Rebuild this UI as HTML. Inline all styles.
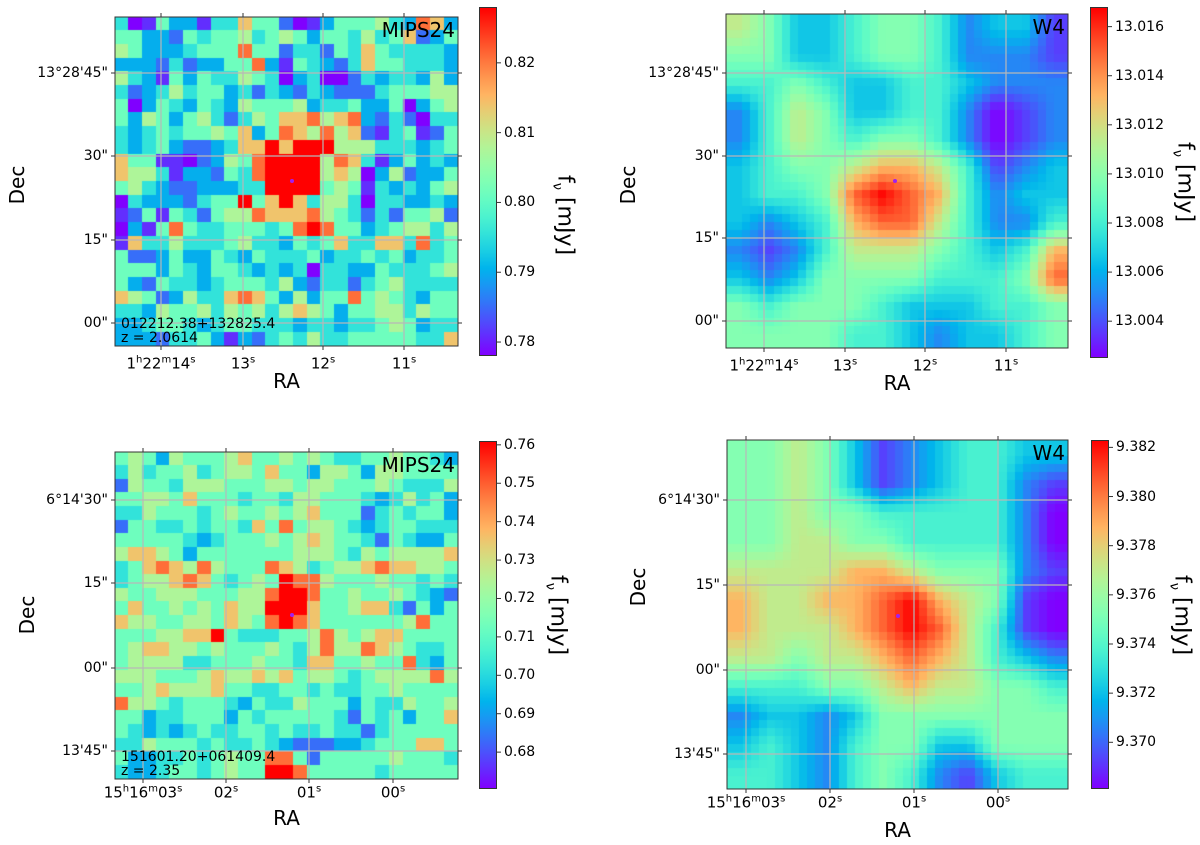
<!DOCTYPE html>
<html><head><meta charset="utf-8">
<style>
body{margin:0;background:#fff;}
#root{position:relative;width:1200px;height:845px;overflow:hidden;background:#fff;font-family:"DejaVu Sans","Liberation Sans",sans-serif;color:#000;}
.t{position:absolute;white-space:nowrap;font-size:14px;line-height:1;}
.ax{position:absolute;box-sizing:border-box;border:1px solid #333;}
sup{font-size:10px;vertical-align:6px;line-height:0;}
canvas{position:absolute;}
svg{position:absolute;left:0;top:0;}
</style></head>
<body>
<div id="root">
<svg id="ov" width="1200" height="845"></svg>
</div>
<script>
// ---- data: flux levels (0 = colorbar min ... 9 = colorbar max) ----
const mipsTopRows=[
"4015331447552013555643873",
"5533254556456535546457235",
"6533345558552442547544443",
"3332423355831543247554443",
"6431535446540340024344363",
"4234645534243243222455566",
"5035435436555634453350356",
"5365356424657786783242044",
"4345455657358768672145125",
"4345322347797999666444345",
"7551102365899996874135343",
"7664133254899996760362335",
"5643223334499995651434356",
"0433324559579746640443343",
"1251542566877786542425562",
"0315854455545898553456646",
"1744644456443545744774845",
"5223533543544453445453445",
"5553543554343404433544456",
"5325443455546324424564444",
"7652364478753635585654355",
"4436556465646765355664655",
"3345543455444344344565344",
"3332445313245464455555447"];
const mipsBotRows=[
"5653655567556565445565543",
"4645564566575536653665555",
"2655466655566566555654446",
"5566575554554665554346453",
"4465554565565675552454553",
"2554454554758566543455444",
"5555543455565676554254335",
"6776535555555666546566667",
"4578768655587645667877665",
"4566787545659886555655454",
"6556665556689985565565432",
"5755656576699975567742535",
"7665566576589875555556855",
"5556677954445568656775555",
"5677665655565468668765445",
"5666644555655477556558435",
"6665556766767566545666686",
"5567666755445545445565555",
"8665455543544655535446556",
"5534455535455555425453557",
"5434345445545445442455555",
"4465554544543222334555775",
"5334454565588525555565554",
"4334554565599855555455555"];
const w4TopRows=[
"653345542331",
"553345542221",
"445433443222",
"246533442012",
"246545542012",
"345567764123",
"344589874233",
"323478864224",
"212466654347",
"323555544458",
"545554333445",
"555544323345"];
const w4BotRows=[
"556531234433",
"556531234421",
"556554444420",
"556655444420",
"666677655521",
"766778976510",
"766678986410",
"665667876432",
"444556766554",
"233235555555",
"343245533555",
"443245421344"];
const cb1Ticks=["0.78","0.79","0.80","0.81","0.82"];
const cb2Ticks=["13.004","13.006","13.008","13.010","13.012","13.014","13.016"];
const cb3Ticks=["0.68","0.69","0.70","0.71","0.72","0.73","0.74","0.75","0.76"];
const cb4Ticks=["9.370","9.372","9.374","9.376","9.378","9.380","9.382"];
const cbRanges=[[0.778,0.828],[13.0025,13.0168],[0.6704,0.7610],[9.3681,9.3823]];

function rainbow(t){t=Math.max(0,Math.min(1,t));
 const r=Math.min(1,Math.abs(2*t-0.5)),g=Math.sin(Math.PI*t),b=Math.cos(Math.PI*t/2);
 return [Math.round(r*255),Math.round(g*255),Math.round(b*255)];}
function css(c){return 'rgb('+c[0]+','+c[1]+','+c[2]+')';}
function lvl(d,g){return Math.pow(d/9,g);}

const root=document.getElementById('root');
const ov=document.getElementById('ov');
const NS='http://www.w3.org/2000/svg';

const panels=[
 {name:'mips-top',kind:'mips',rows:mipsTopRows,x0:115,y0:17,x1:458,y1:346,
  cb:{x:479,w:18,y0:7,y1:356},ticks:cb1Ticks,range:cbRanges[0],
  gx:[161,243,323,404],gxl:['1<sup>h</sup>22<sup>m</sup>14<sup>s</sup>','13<sup>s</sup>','12<sup>s</sup>','11<sup>s</sup>'],
  gy:[73,156,240,323],gyl:['13°28\'45"','30"','15"','00"'],
  src:[292,181],id1:'012212.38+132825.4',id2:'z = 2.0614',label:'MIPS24',
  xlabY:364,raY:381,decX:17,decY:185,cbLab:[563,215]},
 {name:'w4-top',kind:'w4',rows:w4TopRows,x0:726,y0:14,x1:1068,y1:348,
  cb:{x:1090,w:18,y0:7,y1:358},ticks:cb2Ticks,range:cbRanges[1],
  gx:[764,845,925,1006],gxl:['1<sup>h</sup>22<sup>m</sup>14<sup>s</sup>','13<sup>s</sup>','12<sup>s</sup>','11<sup>s</sup>'],
  gy:[73,156,238,321],gyl:['13°28\'45"','30"','15"','00"'],
  src:[895,181],label:'W4',
  xlabY:366,raY:383,decX:628,decY:185,cbLab:[1183,182]},
 {name:'mips-bottom',kind:'mips',rows:mipsBotRows,x0:115,y0:452,x1:458,y1:779,
  cb:{x:479,w:18,y0:441,y1:789},ticks:cb3Ticks,range:cbRanges[2],
  gx:[143,226,309,393],gxl:['15<sup>h</sup>16<sup>m</sup>03<sup>s</sup>','02<sup>s</sup>','01<sup>s</sup>','00<sup>s</sup>'],
  gy:[500,583,668,751],gyl:['6°14\'30"','15"','00"','13\'45"'],
  src:[292,615],id1:'151601.20+061409.4',id2:'z = 2.35',label:'MIPS24',
  xlabY:793,raY:818,decX:27,decY:615,cbLab:[556,615]},
 {name:'w4-bottom',kind:'w4',rows:w4BotRows,x0:727,y0:440,x1:1068,y1:789,
  cb:{x:1091,w:18,y0:440,y1:789},ticks:cb4Ticks,range:cbRanges[3],
  gx:[746,830,914,998],gxl:['15<sup>h</sup>16<sup>m</sup>03<sup>s</sup>','02<sup>s</sup>','01<sup>s</sup>','00<sup>s</sup>'],
  gy:[500,585,670,754],gyl:['6°14\'30"','15"','00"','13\'45"'],
  src:[898,616],label:'W4',
  xlabY:803,raY:830,decX:638,decY:587,cbLab:[1180,615]}
];

function line(x1,y1,x2,y2,col,w,name){const l=document.createElementNS(NS,'line');
 l.setAttribute('x1',x1);l.setAttribute('y1',y1);l.setAttribute('x2',x2);l.setAttribute('y2',y2);
 l.setAttribute('stroke',col);l.setAttribute('stroke-width',w);
 
 
 ov.appendChild(l);}
function text(html,x,y,anchor,size,name,rot){const d=document.createElement('div');d.className='t';d.innerHTML=html;
 d.style.fontSize=size+'px';d.style.left=x+'px';d.style.top=y+'px';
 let tr='';if(anchor==='c')tr='translate(-50%,-50%)';else if(anchor==='r')tr='translate(-100%,-50%)';else if(anchor==='l')tr='translate(0,-50%)';
 if(rot)tr+=' rotate('+rot+'deg)';d.style.transform=tr;
 
 
 root.appendChild(d);return d;}

panels.forEach(p=>{
 const W=p.x1-p.x0,H=p.y1-p.y0;
 const nr=p.rows.length,nc=p.rows[0].length;
 const cv=document.createElement('canvas');
 
 
 cv.style.left=p.x0+'px';cv.style.top=p.y0+'px';cv.width=W;cv.height=H;
 root.insertBefore(cv,ov);
 const ctx=cv.getContext('2d');
 if(p.kind==='mips'){
  const cw=W/nc,ch=H/nr;
  for(let r=0;r<nr;r++)for(let c=0;c<nc;c++){
   ctx.fillStyle=css(rainbow(lvl(+p.rows[r][c],1.3)));
   ctx.fillRect(Math.floor(c*cw),Math.floor(r*ch),Math.ceil(cw)+1,Math.ceil(ch)+1);}
 }else{
  const bs=8;
  for(let py=0;py<H;py+=bs)for(let px=0;px<W;px+=bs){
   const fx=Math.max(0,Math.min(nc-1,(px+bs/2)/W*nc-0.5)),fy=Math.max(0,Math.min(nr-1,(py+bs/2)/H*nr-0.5));
   const ix=Math.min(nc-2,Math.floor(fx)),iy=Math.min(nr-2,Math.floor(fy));const ax=fx-ix,ay=fy-iy;
   const v=(+p.rows[iy][ix])*(1-ax)*(1-ay)+(+p.rows[iy][ix+1])*ax*(1-ay)+(+p.rows[iy+1][ix])*(1-ax)*ay+(+p.rows[iy+1][ix+1])*ax*ay;
   ctx.fillStyle=css(rainbow(lvl(v,1.15)));ctx.fillRect(px,py,bs,bs);}
 }
 p.gx.forEach((x,i)=>{line(x,p.y0,x,p.y1,'#b8b8b8',1.2,p.name+'-grid-ra-'+i);
   line(x,p.y0,x,p.y0-4,'#333',1,p.name+'-tick-top-'+i);line(x,p.y1,x,p.y1+4,'#333',1,p.name+'-tick-bottom-'+i);
   text(p.gxl[i],x,p.xlabY,'c',15,p.name+'-x-tick-label');});
 p.gy.forEach((y,i)=>{line(p.x0,y,p.x1,y,'#b8b8b8',1.2,p.name+'-grid-dec-'+i);
   line(p.x0,y,p.x0-4,y,'#333',1,p.name+'-tick-left-'+i);line(p.x1,y,p.x1+4,y,'#333',1,p.name+'-tick-right-'+i);
   text(p.gyl[i],p.x0-7,y,'r',14,p.name+'-y-tick-label');});
 const fr=document.createElementNS(NS,'rect');fr.setAttribute('x',p.x0);fr.setAttribute('y',p.y0);fr.setAttribute('width',W);fr.setAttribute('height',H);
 fr.setAttribute('fill','none');fr.setAttribute('stroke','#333');fr.setAttribute('stroke-width',1);
 
 
 ov.appendChild(fr);
 const dot=document.createElementNS(NS,'circle');dot.setAttribute('cx',p.src[0]);dot.setAttribute('cy',p.src[1]);dot.setAttribute('r',2);dot.setAttribute('fill','#a020f0');
 
 
 ov.appendChild(dot);
 text(p.label,p.x1-3,p.y0+13,'r',20,p.name+'-band-label');
 if(p.id1){text(p.id1,p.x0+6,p.y1-22,'l',14,p.name+'-source-id');text(p.id2,p.x0+6,p.y1-8,'l',14,p.name+'-redshift');}
 text('RA',(p.x0+p.x1)/2,p.raY,'c',20,p.name+'-x-axis-title');
 text('Dec',p.decX,p.decY,'c',20,p.name+'-y-axis-title',-90);
 text('f<sub style="font-size:13px">ν</sub> [mJy]',p.cbLab[0],p.cbLab[1],'c',22,p.name+'-colorbar-title',90);
 const cb=document.createElement('div');cb.className='ax';
 
 
 cb.style.left=p.cb.x+'px';cb.style.top=p.cb.y0+'px';cb.style.width=p.cb.w+'px';cb.style.height=(p.cb.y1-p.cb.y0)+'px';
 const st=[];for(let i=0;i<=20;i++)st.push(css(rainbow(1-i/20))+' '+(i*5)+'%');
 cb.style.background='linear-gradient(to bottom,'+st.join(',')+')';root.appendChild(cb);
 const [vmin,vmax]=p.range;
 p.ticks.forEach((t,i)=>{const y=p.cb.y1-(parseFloat(t)-vmin)/(vmax-vmin)*(p.cb.y1-p.cb.y0);
   line(p.cb.x+p.cb.w,y,p.cb.x+p.cb.w+4,y,'#333',1,p.name+'-colorbar-tick-'+i);
   text(t,p.cb.x+p.cb.w+7,y,'l',14,p.name+'-colorbar-tick-label');});
});
</script>
</body></html>
